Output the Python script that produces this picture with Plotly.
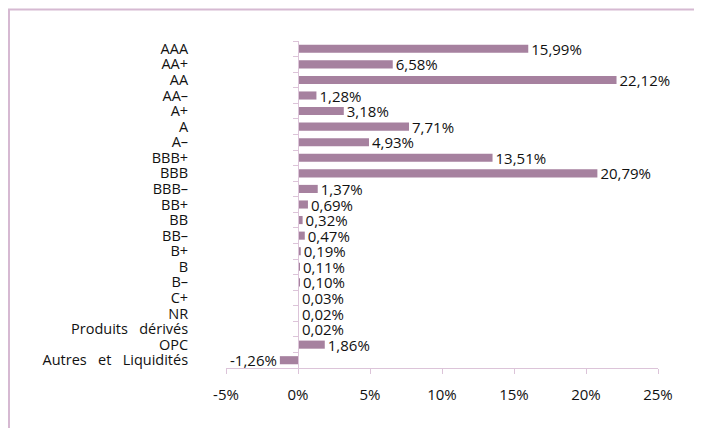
import plotly.graph_objects as go

# Ratings breakdown (top to bottom as displayed)
categories = [
    "AAA", "AA+", "AA", "AA–", "A+", "A", "A–",
    "BBB+", "BBB", "BBB–", "BB+", "BB", "BB–",
    "B+", "B", "B–", "C+", "NR",
    "Produits\u00a0\u00a0 dérivés", "OPC",
    "Autres\u00a0\u00a0 et\u00a0\u00a0 Liquidités",
]
weights = [
    15.99, 6.58, 22.12, 1.28, 3.18, 7.71, 4.93,
    13.51, 20.79, 1.37, 0.69, 0.32, 0.47,
    0.19, 0.11, 0.10, 0.03, 0.02,
    0.02, 1.86, -1.26,
]
x_tickvals = [-5, 0, 5, 10, 15, 20, 25]
x_ticktext = ["-5%", "0%", "5%", "10%", "15%", "20%", "25%"]

bar_color = "#a6819f"
axis_color = "#dcc4d9"
frame_color = "#d6b9d2"
font_family = "'Open Sans', Lato, sans-serif"

x_range = [x_tickvals[0], x_tickvals[-1]]
zero_pos = (0 - x_range[0]) / (x_range[1] - x_range[0])

fig = go.Figure()
fig.add_trace(
    go.Bar(
        y=categories,
        x=weights,
        orientation="h",
        marker=dict(color=bar_color, line=dict(width=0)),
        texttemplate="%{x:.2f}%",
        textposition="outside",
        constraintext="none",
        textfont=dict(color="#111111", size=15, family=font_family),
        cliponaxis=False,
        hoverinfo="skip",
    )
)

# page body adds 8px, so the figure is a bit smaller than the window
W, H = 694, 420
margin = dict(l=218, r=44, t=33, b=60)
plot_w = W - margin["l"] - margin["r"]
plot_h = H - margin["t"] - margin["b"]

# Frame around the chart area (runs off the right and bottom edges)
fig.add_shape(
    type="rect",
    xref="paper",
    yref="paper",
    x0=(1 - margin["l"]) / plot_w,
    x1=2,
    y0=-1,
    y1=(H - margin["b"] - 1.5) / plot_h,
    line=dict(color=frame_color, width=2),
    layer="below",
)

fig.update_layout(
    width=W,
    height=H,
    margin=dict(margin, autoexpand=False),
    separators=", ",
    bargap=0.48,
    showlegend=False,
    plot_bgcolor="white",
    paper_bgcolor="white",
    font=dict(family=font_family, size=14.5, color="#111111"),
    xaxis=dict(
        range=x_range,
        tickvals=x_tickvals,
        ticktext=x_ticktext,
        tickfont=dict(size=15),
        showgrid=False,
        zeroline=False,
        showline=True,
        linecolor=axis_color,
        linewidth=1,
        ticks="outside",
        ticklen=5,
        tickcolor=axis_color,
        ticklabelstandoff=8,
    ),
    yaxis=dict(
        categoryorder="array",
        categoryarray=categories,
        tickvals=categories,
        autorange="reversed",
        anchor="free",
        position=zero_pos,
        showgrid=False,
        zeroline=False,
        showline=True,
        linecolor=axis_color,
        linewidth=1,
        ticks="outside",
        ticklen=5,
        tickcolor=axis_color,
        tickson="boundaries",
        ticklabelstandoff=107,
    ),
)

fig.write_html("out.html")
